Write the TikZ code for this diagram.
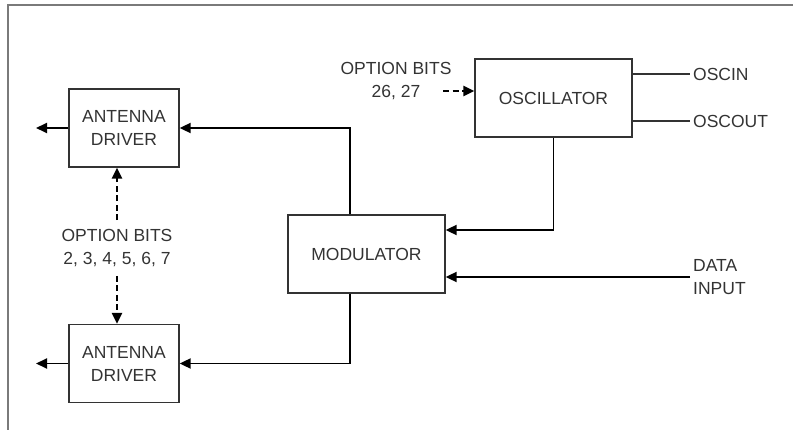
\documentclass[tikz,border=0pt]{standalone}
\usepackage{fontspec}
\setmainfont{Liberation Sans}
\usetikzlibrary{arrows.meta}
\definecolor{inkgray}{HTML}{333333}
\definecolor{framegray}{HTML}{7A7A7A}
\tikzset{
  block/.style={
    draw=inkgray,
    line width=1.3pt,
    minimum width=110pt,
    minimum height=78pt,
    align=center,
    inner sep=0pt
  },
  wideblock/.style={
    block,
    minimum width=157pt
  },
  tag/.style={
    inner sep=3pt,
    align=center
  },
  sig/.style={
    -{Triangle[length=11pt,width=10pt]},
    line width=1.8pt,
    draw=black
  },
  optsig/.style={
    sig,
    line width=2.4pt,
    dash pattern=on 6pt off 3.5pt
  },
  wire/.style={
    line width=1.3pt,
    draw=inkgray
  },
  every picture/.style = {
    font=\fontsize{17.5}{23}\selectfont,
    text=inkgray
  }
}
\begin{document}
\begin{tikzpicture}[x=1pt,y=-1pt]
  \useasboundingbox (0,0) rectangle (793,430);
  \draw[framegray, line width=1.5pt] (793,5) -- (8,5) -- (8,430);

  \node[block] (drvA) at (124,128) {ANTENNA\\DRIVER};
  \node[block] (drvB) at (124,363.5) {ANTENNA\\DRIVER};
  \node[wideblock] (mod) at (366.5,254) {MODULATOR};
  \node[wideblock] (osc) at (553.5,98) {OSCILLATOR};

  \node[tag, inner ysep=9pt] (optA) at (117,248) {OPTION BITS\\2, 3, 4, 5, 6, 7};
  \node[tag] (optB) at (396,81) {OPTION BITS\\26, 27};
  \node[tag, anchor=west] (oscin) at (690,74) {OSCIN};
  \node[tag, anchor=west] (oscout) at (690,121) {OSCOUT};
  \node[tag, anchor=west, align=left] (data) at (690,277) {DATA\\INPUT};

  \coordinate (outA) at (36,128);
  \coordinate (outB) at (36,363.5);
  \coordinate (optBend) at (443,91);

  \draw[sig] (drvA.west) -- (outA);
  \draw[sig] (drvB.west) -- (outB);
  \draw[sig] ([xshift=63pt]mod.north west) |- (drvA.east);
  \draw[sig] ([xshift=63pt]mod.south west) |- (drvB.east);
  \draw[sig] (osc.south) |- ([yshift=24pt]mod.east);
  \draw[sig] (data.west) -- (data.west -| mod.east);

  \draw[optsig] (optA.north) -- (optA.north |- drvA.south);
  \draw[optsig] (optA.south) -- (optA.south |- drvB.north);
  \draw[optsig] (optBend) -- (optBend -| osc.west);

  \draw[wire] (oscin.west -| osc.east) -- (oscin.west);
  \draw[wire] (oscout.west -| osc.east) -- (oscout.west);
\end{tikzpicture}
\end{document}
